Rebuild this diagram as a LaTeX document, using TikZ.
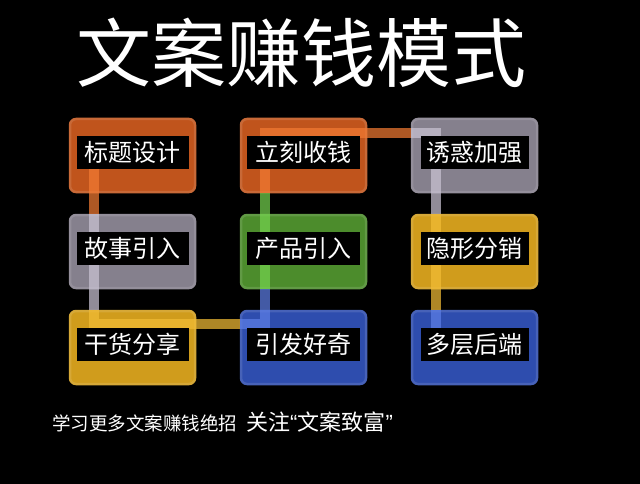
\documentclass[tikz,border=0pt]{standalone}
\usepackage{fontspec}
\setmainfont{Noto Sans CJK SC}
\newfontfamily\qfont{Liberation Sans}
\definecolor{borg}{HTML}{C0541C}
\definecolor{bgry}{HTML}{85808D}
\definecolor{bgrn}{HTML}{4C8C2C}
\definecolor{byel}{HTML}{D09C1C}
\definecolor{bblu}{HTML}{2E4DAE}
\definecolor{lorg}{HTML}{F27A33}
\definecolor{lgry}{HTML}{C9C3D3}
\definecolor{lyel}{HTML}{F2BC35}
\definecolor{lblu}{HTML}{5D7EE6}
\definecolor{lgrn}{HTML}{74D24E}
\begin{document}
\begin{tikzpicture}[x=1pt,y=-1pt,
  box/.style={rectangle, rounded corners=6pt, minimum width=125pt, minimum height=73pt,
    fill=#1, draw=#1!88!white, line width=2.5pt, inner sep=0pt},
  lab/.style={rectangle, fill=black, text=white, minimum width=#1, minimum height=33pt,
    inner sep=0pt, font=\fontsize{24}{24}\selectfont},
  seg/.style={draw=#1, line width=10pt, draw opacity=0.72, line join=miter, line cap=butt}]
\useasboundingbox (0,0) rectangle (640,484);
\fill[black] (0,0) rectangle (640,484);
% title
\node[text=white, inner sep=0pt, font=\fontsize{75}{75}\selectfont] (title) at (301.5,52.5) {文案赚钱模式};
% boxes
\node[box=borg] (b11) at (132.5,155.5) {};
\node[box=bgry] (b21) at (132.5,251.5) {};
\node[box=byel] (b31) at (132.5,347.5) {};
\node[box=borg] (b12) at (303.5,155.5) {};
\node[box=bgrn] (b22) at (303.5,251.5) {};
\node[box=bblu] (b32) at (303.5,347.5) {};
\node[box=bgry] (b13) at (474.5,155.5) {};
\node[box=byel] (b23) at (474.5,251.5) {};
\node[box=bblu] (b33) at (474.5,347.5) {};
% connector guide coordinates
\coordinate (x1) at (94,0);
\coordinate (x2) at (265,0);
\coordinate (x3) at (436,0);
\coordinate (yA) at (0,324);
\coordinate (yB) at (0,133);
% connectors
\draw[seg=lorg] (x1 |- b11.center) -- (x1 |- b21.north);
\draw[seg=lgry] (x1 |- b21.north) -- (x1 |- b31.north);
\draw[seg=lyel] (x1 |- b31.north) -- (x1 |- yA) -- (b32.west |- yA);
\draw[seg=lblu] (b32.west |- yA) -- (x2 |- yA) -- (x2 |- b22.south);
\draw[seg=lgrn] (x2 |- b22.south) -- (x2 |- b12.south);
\draw[seg=lorg] (x2 |- b12.south) -- (x2 |- yB) -- (b13.west |- yB);
\draw[seg=lgry] (b13.west |- yB) -- (x3 |- yB) -- (x3 |- b23.north);
\draw[seg=lyel] (x3 |- b23.north) -- (x3 |- b33.north);
\draw[seg=lblu] (x3 |- b33.north) -- (x3 |- b33.center);
% labels
\node[lab=112pt] (l11) at ([yshift=3pt]b11.center) {标题设计};
\node[lab=112pt] (l21) at ([yshift=3pt]b21.center) {故事引入};
\node[lab=112pt] (l31) at ([yshift=3pt]b31.center) {干货分享};
\node[lab=113pt] (l12) at ([yshift=3pt]b12.center) {立刻收钱};
\node[lab=113pt] (l22) at ([yshift=3pt]b22.center) {产品引入};
\node[lab=113pt] (l32) at ([yshift=3pt]b32.center) {引发好奇};
\node[lab=108pt] (l13) at ([yshift=3pt]b13.center) {诱惑加强};
\node[lab=108pt] (l23) at ([yshift=3pt]b23.center) {隐形分销};
\node[lab=108pt] (l33) at ([yshift=3pt]b33.center) {多层后端};
% footer
\node[anchor=base west, text=white, inner sep=0pt] (foot) at (52,430)
  {\fontsize{18.5}{20}\selectfont 学习更多文案赚钱绝招\hspace{9pt}\fontsize{22}{24}\selectfont 关注{\qfont “}文案致富{\qfont ”}};
\end{tikzpicture}
\end{document}
